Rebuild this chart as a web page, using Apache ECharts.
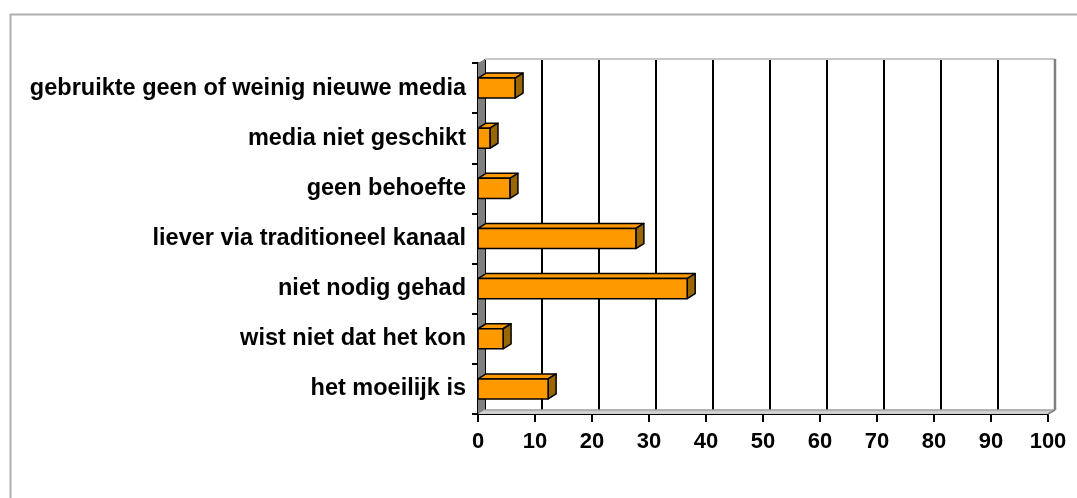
<!DOCTYPE html>
<html>
<head>
<meta charset="utf-8">
<script src="https://cdn.jsdelivr.net/npm/echarts@6/dist/echarts.min.js"></script>
<style>
  html, body { margin: 0; padding: 0; background: #fff; }
  #chart { width: 1077px; height: 498px; }
</style>
</head>
<body>
<div id="chart"></div>
<script>
// categories from bottom to top
var categories = [
  "het moeilijk is",
  "wist niet dat het kon",
  "niet nodig gehad",
  "liever via traditioneel kanaal",
  "geen behoefte",
  "media niet geschikt",
  "gebruikte geen of weinig nieuwe media"
];
var values = [12.3, 4.4, 36.7, 27.7, 5.6, 2.1, 6.5];
var xTicks = { min: 0, max: 100, interval: 10 };

var DX = 7, DY = 4; // depth of the 3d effect

var chart = echarts.init(document.getElementById("chart"));
var font = "'Liberation Sans', Arial, Helvetica, sans-serif";

var barData = values.map(function (v, i) { return [v, i]; });

function renderBar(params, api) {
  var base = api.coord([0, api.value(1)]);
  var end = api.coord([api.value(0), api.value(1)]);
  var h = api.size([0, 1])[1] * 0.4;
  var x = base[0], y = end[1] - h / 2, w = end[0] - base[0];
  var dx = 8, dy = 5;
  var stroke = { stroke: "#000", lineWidth: 1.5, lineJoin: "round" };
  return {
    type: "group",
    children: [
      { type: "polygon", shape: { points: [[x, y], [x + dx, y - dy], [x + w + dx, y - dy], [x + w, y]] },
        style: Object.assign({ fill: "#FF9900" }, stroke) },
      { type: "polygon", shape: { points: [[x + w, y], [x + w + dx, y - dy], [x + w + dx, y + h - dy], [x + w, y + h]] },
        style: Object.assign({ fill: "#996600" }, stroke) },
      { type: "rect", shape: { x: x, y: y, width: w, height: h },
        style: Object.assign({ fill: "#FF9900" }, stroke) }
    ]
  };
}

function renderWalls(params, api) {
  var r = params.coordSys;
  var x0 = r.x, y0 = r.y, x1 = r.x + r.width, y1 = r.y + r.height;
  return {
    type: "group",
    children: [
      // left wall
      { type: "polygon", shape: { points: [[x0, y0], [x0 + DX, y0 - DY], [x0 + DX, y1 - DY], [x0, y1]] },
        style: { fill: "#808080" } },
      // floor
      { type: "polygon", shape: { points: [[x0, y1], [x0 + DX, y1 - DY], [x1 + DX, y1 - DY], [x1, y1]] },
        style: { fill: "#d0d0d0" } },
      { type: "line", shape: { x1: x0 + DX, y1: y1 - DY, x2: x1 + DX, y2: y1 - DY },
        style: { stroke: "#a0a0a0", lineWidth: 1.5 } },
      // back wall top and right edges
      { type: "line", shape: { x1: x0 + DX, y1: y0 - DY, x2: x1 + DX, y2: y0 - DY },
        style: { stroke: "#c8c8c8", lineWidth: 2 } },
      { type: "line", shape: { x1: x1 + DX, y1: y0 - DY, x2: x1 + DX, y2: y1 - DY },
        style: { stroke: "#808080", lineWidth: 2.5 } },
      { type: "line", shape: { x1: x1, y1: y1, x2: x1 + DX, y2: y1 - DY },
        style: { stroke: "#808080", lineWidth: 1.5 } }
    ]
  };
}

var option = {
  backgroundColor: "#fff",
  animation: false,
  graphic: [
    { type: "rect", left: 8, top: 12, shape: { width: 1200, height: 600 },
      style: { fill: "none", stroke: "#b0b0b0", lineWidth: 2 } }
  ],
  grid: [
    { left: 478, right: 29, top: 63, bottom: 84 },
    { left: 478 + DX, right: 29 - DX, top: 63 - DY, bottom: 84 + DY }
  ],
  xAxis: [
    {
      gridIndex: 0, type: "value", min: xTicks.min, max: xTicks.max, interval: xTicks.interval,
      axisLine: { show: true, lineStyle: { color: "#000", width: 2 } },
      axisTick: { show: true, length: 8, lineStyle: { color: "#000", width: 2 } },
      axisLabel: { margin: 17, color: "#000", fontSize: 22, fontWeight: "bold", fontFamily: font },
      splitLine: { show: false }
    },
    {
      gridIndex: 1, type: "value", min: xTicks.min, max: xTicks.max, interval: xTicks.interval,
      axisLine: { show: false }, axisTick: { show: false }, axisLabel: { show: false },
      splitLine: { show: true, lineStyle: { color: "#000", width: 2 } }
    }
  ],
  yAxis: [
    {
      gridIndex: 0, type: "category", data: categories,
      axisLine: { show: true, lineStyle: { color: "#000", width: 2 } },
      axisTick: { show: true, length: 6, lineStyle: { color: "#000", width: 2 } },
      axisLabel: { margin: 12, color: "#000", fontSize: 23.5, fontWeight: "bold", fontFamily: font },
      splitLine: { show: false }
    },
    {
      gridIndex: 1, type: "category", data: categories, show: false
    }
  ],
  series: [
    {
      type: "custom", xAxisIndex: 0, yAxisIndex: 0, z: 1,
      data: [[0, 0]], renderItem: renderWalls, silent: true
    },
    {
      type: "custom", xAxisIndex: 0, yAxisIndex: 0, z: 5,
      data: barData, encode: { x: 0, y: 1 }, renderItem: renderBar
    }
  ]
};
chart.setOption(option);
</script>
</body>
</html>
